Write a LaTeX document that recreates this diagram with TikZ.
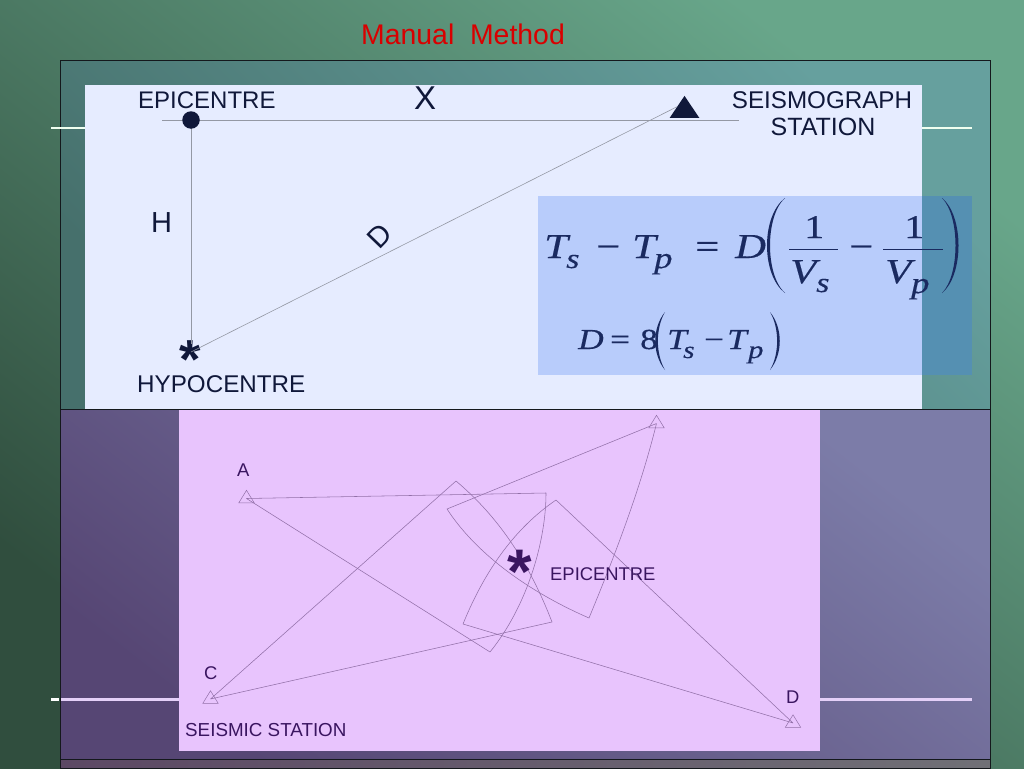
\documentclass[tikz,border=0pt]{standalone}
\usepackage{fontspec}
\setmainfont{Liberation Sans}
\newfontfamily\mthfont[FakeStretch=1.22,FakeBold=0.4]{Liberation Serif}
\definecolor{navy}{HTML}{10183A}
\definecolor{mathc}{HTML}{1A2A60}
\definecolor{plum}{HTML}{3A1560}
\definecolor{wire}{HTML}{9270A8}
\definecolor{greyline}{HTML}{9498A4}
\definecolor{sheetA}{HTML}{E6ECFF}
\definecolor{sheetB}{HTML}{E8C4FD}
\definecolor{boxA}{HTML}{B8CCFB}
\definecolor{boxB}{HTML}{5590B2}
\definecolor{bgA}{RGB}{48,78,62}
\definecolor{bgB}{RGB}{104,166,138}
\definecolor{topA}{RGB}{70,112,108}
\definecolor{topB}{RGB}{102,160,158}
\definecolor{botA}{RGB}{86,70,116}
\definecolor{botB}{RGB}{124,124,168}
\definecolor{stripA}{RGB}{92,72,100}
\definecolor{stripB}{RGB}{112,112,118}
\definecolor{rule}{RGB}{20,24,28}
\definecolor{lilac}{RGB}{228,208,248}
\usetikzlibrary{shapes.geometric}
\pgfdeclarelayer{marks}
\pgfsetlayers{main,marks}
\tikzset{
 lab/.style={anchor=base west,inner sep=0pt,text=navy},
 sz/.style={font=\fontsize{#1}{#1}\selectfont},
 mi/.style={anchor=base west,inner sep=0pt,text=mathc,font=\mthfont\itshape\fontsize{#1}{#1}\selectfont},
 mu/.style={anchor=base west,inner sep=0pt,text=mathc,font=\mthfont\fontsize{#1}{#1}\selectfont},
 plab/.style={anchor=base west,inner sep=0pt,text=plum,font=\fontsize{18.4}{18.4}\selectfont},
 wireline/.style={draw=wire,line width=0.55pt,line join=round},
 stn/.style={isosceles triangle,isosceles triangle apex angle=63,shape border rotate=90,draw=wire,line width=0.5pt,fill=none,minimum height=12.5pt,inner sep=0pt},
 thin1/.style={draw=greyline,line width=0.7pt},
 mbar/.style={draw=mathc,line width=0.9pt},
 mparen/.style={fill=mathc},
 glow/.style={line width=2.8pt},
}
\begin{document}
\begin{tikzpicture}[x=1pt,y=-1pt]
\useasboundingbox (0,0) rectangle (1024,768);
% background
\shade[bottom color=bgA,top color=bgB,shading angle=-38] (0,0) rectangle (1024,768);
% top panel
\shade[bottom color=topA,top color=topB,shading angle=-45] (60,60) rectangle (990,409);
% bottom panel
\shade[bottom color=botA,top color=botB,shading angle=-38] (60,409) rectangle (990,759);
\shade[left color=stripA,right color=stripB] (60,759) rectangle (990,768);
\draw[line width=1pt,rule] (60,60) rectangle (990,768);
\draw[line width=1pt,rule] (60,409) -- (990,409);
\draw[line width=1pt,rule] (60,759.5) -- (990,759.5);
% bright lines
\draw[white!94!green,glow] (51,128) -- (85,128);
\draw[white!94!green,glow] (922,128) -- (972,128);
\draw[white,glow] (51,699.5) -- (59,699.5);
\draw[lilac,glow] (61,699.5) -- (179,699.5);
\draw[lilac,glow] (820,699.5) -- (972,699.5);
% sheets
\fill[sheetA] (85,85) rectangle (922,409);
\fill[sheetB] (179,410) rectangle (820,751);
\fill[boxA] (538,196) rectangle (922,375);
\fill[boxB] (922,196) rectangle (972,375);
% title
\node[anchor=base west,inner sep=0pt,text=red!85!black,sz=28.4] (title) at (361,45) {Manual\ \ Method};
% top diagram
\coordinate (lineW) at (162,120);
\coordinate (lineE) at (739,120);
\begin{pgfonlayer}{marks}
\node[circle,fill=navy,minimum size=17.5pt,inner sep=0pt] (epi) at (191,120) {};
\node[isosceles triangle,isosceles triangle apex angle=68,shape border rotate=90,fill=navy,minimum height=22pt,inner sep=0pt] (sta) at (684.5,110) {};
\end{pgfonlayer}
\coordinate (hypo) at (191,352);
\node[anchor=base west,inner sep=0pt,text=navy,font=\bfseries\fontsize{55}{55}\selectfont] (star) at (179.3,378.4) {*};
\draw[thin1] (lineW) -- (lineE);
\draw[thin1] (epi.center) -- (191,344);
\draw[greyline,line width=0.6pt] (hypo) -- (sta.left side);
\node[lab,sz=24] (lepi) at (138,108) {EPICENTRE};
\node[lab,sz=33] (lx) at (414,109) {X};
\node[lab,sz=29] (lh) at (151,232) {H};
\node[inner sep=0pt,text=navy,sz=29,rotate=46] (ld) at (380,236) {D};
\node[anchor=base,inner sep=0pt,text=navy,sz=24.2] (ls1) at (822,108) {SEISMOGRAPH};
\node[anchor=base,inner sep=0pt,text=navy,sz=25] (ls2) at (823,135) {STATION};
\node[lab,sz=24.2] (lhy) at (137,392) {HYPOCENTRE};
% formula 1
\node[mi=35] (t1) at (544,258) {T};
\node[mi=28] (s1) at (566,268) {s};
\node[mu=35] (m1) at (596,258) {−};
\node[mi=35] (t2) at (632,258) {T};
\node[mi=30] (p1) at (654,268) {p};
\node[mu=35] (e1) at (695,258) {=};
\node[mi=35] (d1) at (735,258) {D};
\fill[mparen] (785,198) .. controls (761,216) and (761,275) .. (785,293) .. controls (765,275) and (765,216) .. cycle;
\node[mu=33] (o1) at (804,238) {1};
\draw[mbar] (789,249) -- (838,249);
\node[mi=35] (v1) at (790,283) {V};
\node[mi=28] (s2) at (816,292) {s};
\node[mu=35] (m2) at (849,258) {−};
\node[mu=33] (o2) at (904,238) {1};
\draw[mbar] (883,249) -- (943,249);
\node[mi=35] (v2) at (885,283) {V};
\node[mi=30] (p2) at (911,293) {p};
\fill[mparen] (942,198) .. controls (964,216) and (964,275) .. (942,293) .. controls (960,275) and (960,216) .. cycle;
% formula 2
\node[mi=29] (d2) at (578,349) {D};
\node[mu=29] (e2) at (610,349) {=};
\node[mu=29] (n8) at (640,349) {8};
\fill[mparen] (665,312) .. controls (652,328) and (652,354) .. (665,370) .. controls (655.5,354) and (655.5,328) .. cycle;
\node[mi=29] (t3) at (667,349) {T};
\node[mi=24] (s3) at (683,358) {s};
\node[mu=29] (m3) at (704,349) {−};
\node[mi=29] (t4) at (727,349) {T};
\node[mi=25] (p3) at (748,358) {p};
\fill[mparen] (770,312) .. controls (783,328) and (783,354) .. (770,370) .. controls (779.5,354) and (779.5,328) .. cycle;
% bottom diagram
\node[stn] (A) at (246.5,498.5) {};
\node[stn] (B) at (656.5,423.5) {};
\node[stn] (C) at (210.5,699) {};
\node[stn] (Dst) at (793,723) {};
\path[wireline] (A.center) -- (546,493) .. controls (546,540) and (528,605) .. (490,652) -- cycle;
\path[wireline] (B.center) -- (447,509) .. controls (475,552) and (525,590) .. (589,618) .. controls (615,555) and (640,490) .. (B.center);
\path[wireline] (C.center) -- (456,481) .. controls (500,518) and (530,565) .. (552,622) -- cycle;
\path[wireline] (Dst.center) -- (556,500) .. controls (515,528) and (485,570) .. (463,624) -- cycle;
\node[anchor=base west,inner sep=0pt,text=plum,font=\bfseries\fontsize{63}{63}\selectfont] (star2) at (507.7,593.5) {*};
\node[plab] (lepi2) at (550,580) {EPICENTRE};
\node[plab] (la) at (237,476) {A};
\node[plab] (lc) at (204,679) {C};
\node[plab] (ld2) at (786,703) {D};
\node[plab,font=\fontsize{18.8}{18.8}\selectfont] (lss) at (185,736) {SEISMIC STATION};
\end{tikzpicture}
\end{document}
